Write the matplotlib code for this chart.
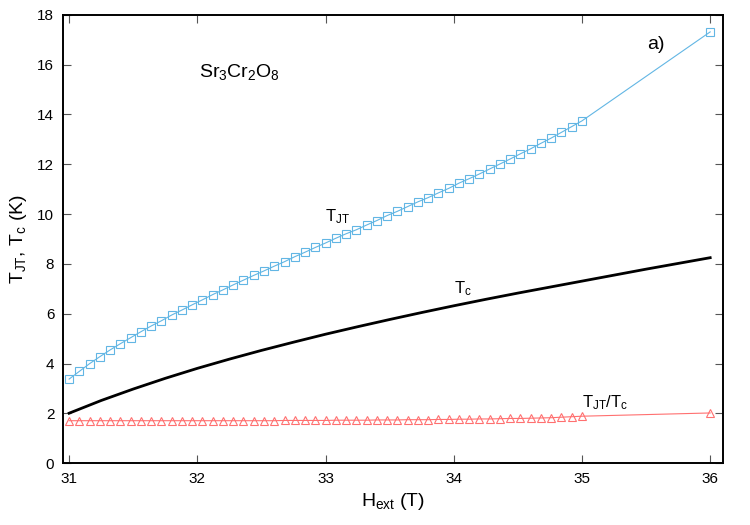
import matplotlib
matplotlib.use("Agg")
import matplotlib.pyplot as plt

plt.rcParams['font.family'] = ['Liberation Sans', 'DejaVu Sans']
plt.rcParams['mathtext.fontset'] = 'custom'
plt.rcParams['mathtext.rm'] = 'Liberation Sans'
plt.rcParams['mathtext.it'] = 'Liberation Sans'

# Data
h_pts = [31.00, 31.08, 31.16, 31.24, 31.32, 31.40, 31.48, 31.56, 31.64, 31.72,
         31.80, 31.88, 31.96, 32.04, 32.12, 32.20, 32.28, 32.36, 32.44, 32.52,
         32.60, 32.68, 32.76, 32.84, 32.92, 33.00, 33.08, 33.16, 33.24, 33.32,
         33.40, 33.48, 33.56, 33.64, 33.72, 33.80, 33.88, 33.96, 34.04, 34.12,
         34.20, 34.28, 34.36, 34.44, 34.52, 34.60, 34.68, 34.76, 34.84, 34.92,
         35.00, 36.00]
t_jt = [3.38, 3.69, 4.00, 4.28, 4.55, 4.80, 5.04, 5.28, 5.51, 5.72,
        5.95, 6.15, 6.36, 6.56, 6.77, 6.96, 7.16, 7.35, 7.54, 7.72,
        7.91, 8.09, 8.29, 8.47, 8.66, 8.84, 9.03, 9.21, 9.37, 9.56,
        9.74, 9.94, 10.11, 10.30, 10.49, 10.66, 10.85, 11.03, 11.24, 11.42,
        11.61, 11.81, 12.01, 12.21, 12.42, 12.62, 12.84, 13.05, 13.28, 13.51,
        13.74, 17.31]
ratio = [1.71, 1.71, 1.71, 1.71, 1.71, 1.71, 1.71, 1.71, 1.71, 1.71,
         1.71, 1.71, 1.71, 1.71, 1.71, 1.71, 1.71, 1.71, 1.71, 1.71,
         1.71, 1.72, 1.72, 1.72, 1.72, 1.72, 1.73, 1.73, 1.73, 1.73,
         1.74, 1.74, 1.74, 1.75, 1.75, 1.75, 1.76, 1.76, 1.77, 1.77,
         1.78, 1.78, 1.79, 1.80, 1.80, 1.81, 1.82, 1.83, 1.85, 1.87,
         1.89, 2.02]
h_tc = [31.00, 31.25, 31.50, 31.75, 32.00, 32.25, 32.50, 32.75, 33.00, 33.25,
        33.50, 33.75, 34.00, 34.25, 34.50, 34.75, 35.00, 35.25, 35.50, 35.75, 36.00]
t_c = [2.01, 2.52, 2.98, 3.41, 3.81, 4.18, 4.53, 4.86, 5.18, 5.48,
       5.77, 6.05, 6.32, 6.58, 6.83, 7.07, 7.31, 7.55, 7.79, 8.02, 8.25]

x_ticks = [31, 32, 33, 34, 35, 36]
y_ticks = [0, 2, 4, 6, 8, 10, 12, 14, 16, 18]

fig = plt.figure(figsize=(7.5, 5.25), dpi=100)
ax = fig.add_axes([0.0836, 0.1175, 0.8804, 0.8545])

ax.plot(h_pts, t_jt, color='#62b6e4', lw=0.8, marker='s', ms=5.5,
        mfc='none', mec='#62b6e4', mew=0.8)
ax.plot(h_tc, t_c, color='black', lw=2.0)
ax.plot(h_pts, ratio, color='#ff7070', lw=0.8, marker='^', ms=5.5,
        mfc='none', mec='#ff7070', mew=0.8)

ax.set_xlim(30.95, 36.1)
ax.set_ylim(0, 18)
ax.set_xticks(x_ticks)
ax.set_yticks(y_ticks)
ax.tick_params(direction='in', length=6, width=0.8, color='#555555',
               top=True, right=True, labelsize=11, pad=6)
for s in ax.spines.values():
    s.set_linewidth(1.4)

ax.set_xlabel(r'$\mathregular{H_{ext}}$ (T)', fontsize=14, labelpad=4)
ax.set_ylabel(r'$\mathregular{T_{JT}}$, $\mathregular{T_c}$ (K)', fontsize=14, labelpad=6)

ax.text(32.01, 15.7, r'$\mathregular{Sr_3Cr_2O_8}$', fontsize=14, ha='left', va='center')
ax.text(35.51, 16.8, 'a)', fontsize=14, ha='left', va='center')
ax.text(33.09, 9.9, r'$\mathregular{T_{JT}}$', fontsize=12, ha='center', va='center')
ax.text(34.07, 7.0, r'$\mathregular{T_c}$', fontsize=12, ha='center', va='center')
ax.text(35.18, 2.45, r'$\mathregular{T_{JT}/T_c}$', fontsize=12, ha='center', va='center')

fig.savefig('out.png', dpi=100)
